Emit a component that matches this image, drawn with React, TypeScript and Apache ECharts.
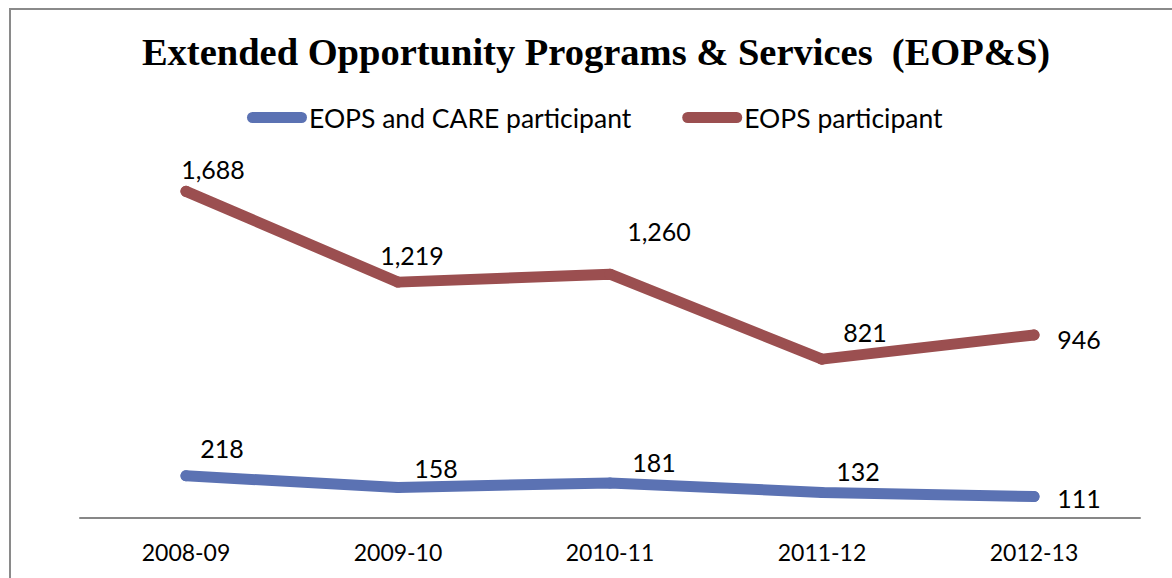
import React, { useEffect, useRef } from "react";
import * as echarts from "echarts";

const categories = ["2008-09", "2009-10", "2010-11", "2011-12", "2012-13"];
const careValues = [218, 158, 181, 132, 111];
const eopsValues = [1688, 1219, 1260, 821, 946];
const seriesNames = ["EOPS and CARE participant", "EOPS participant"];
const titleText = "Extended Opportunity Programs & Services  (EOP&S)";

// label offsets (dx, dy) relative to each point
const careLabelOffsets = [[36, -28], [38, -19], [44, -21], [36, -21], [45, 1]];
const eopsLabelOffsets = [[27, -22], [14, -27], [49, -43], [43, -27], [45, 4]];

const fmt = (v: number) => v.toLocaleString("en-US");

export default function App() {
  const ref = useRef<HTMLDivElement>(null);
  useEffect(() => {
    if (!ref.current) return;
    const chart = echarts.init(ref.current, null, { renderer: "svg" });
    const labelFont = { fontFamily: "Lato", fontSize: 25, color: "#000" };
    const mk = (vals: number[], offs: number[][]) =>
      vals.map((v, i) => ({ value: v, label: { offset: offs[i] } }));
    chart.setOption({
      animation: false,
      backgroundColor: "#fff",
      title: {
        text: titleText,
        left: 591,
        top: 27,
        textAlign: "center",
        textStyle: {
          fontFamily: "Liberation Serif",
          fontWeight: "bold",
          fontSize: 38.5,
          color: "#000",
        },
      },
      legend: {
        left: 247,
        top: 104,
        padding: 0,
        itemWidth: 60,
        itemHeight: 11,
        itemGap: 51,
        icon: "path://M5.5,0 H54.5 A5.5,5.5 0 0 1 54.5,11 H5.5 A5.5,5.5 0 0 1 5.5,0 Z",
        textStyle: { fontFamily: "Lato", fontSize: 26.5, color: "#000", padding: [0, 0, 0, -3] },
        data: seriesNames,
      },
      graphic: [
        {
          type: "rect",
          shape: { x: 10, y: 9, width: 1300, height: 700 },
          style: { fill: "none", stroke: "#8a8a8a", lineWidth: 2 },
          silent: true,
        },
      ],
      grid: { left: 80, right: 32, top: 131, bottom: 60 },
      xAxis: {
        type: "category",
        data: categories,
        boundaryGap: true,
        axisLine: { lineStyle: { color: "#878787", width: 2 } },
        axisTick: { show: false },
        axisLabel: { ...labelFont, fontSize: 23, margin: 22 },
      },
      yAxis: {
        type: "value",
        min: 0,
        max: 2000,
        show: false,
        splitLine: { show: false },
      },
      series: [
        {
          name: seriesNames[0],
          type: "line",
          data: mk(careValues, careLabelOffsets),
          symbol: "circle",
          symbolSize: 11,
          color: "#5B72B3",
          lineStyle: { width: 11, cap: "round", join: "round", color: "#5B72B3" },
          itemStyle: { color: "#5B72B3" },
          label: { show: true, position: "inside", ...labelFont, formatter: (p: any) => fmt(p.value) },
        },
        {
          name: seriesNames[1],
          type: "line",
          data: mk(eopsValues, eopsLabelOffsets),
          symbol: "circle",
          symbolSize: 11,
          color: "#9B4F50",
          lineStyle: { width: 11, cap: "round", join: "round", color: "#9B4F50" },
          itemStyle: { color: "#9B4F50" },
          label: { show: true, position: "inside", ...labelFont, formatter: (p: any) => fmt(p.value) },
        },
      ],
    });
    return () => chart.dispose();
  }, []);
  return (
    <div
      ref={ref}
      style={{ position: "fixed", left: 0, top: 0, width: 1172, height: 578 }}
    />
  );
}
